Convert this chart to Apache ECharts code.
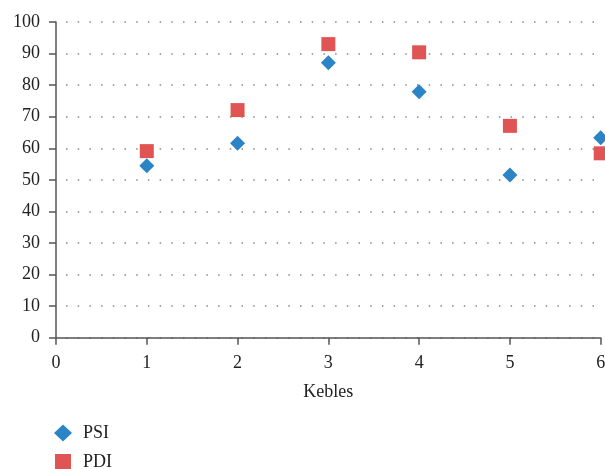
<!DOCTYPE html>
<html>
<head>
<meta charset="utf-8">
<script src="https://cdn.jsdelivr.net/npm/echarts@6/dist/echarts.min.js"></script>
<style>html,body{margin:0;padding:0;background:#fff;}#c{width:605px;height:469px;}</style>
</head>
<body>
<div id="c"></div>
<script>
const xValues = [1, 2, 3, 4, 5, 6];
const psiValues = [54.5, 61.6, 87.1, 77.9, 51.5, 63.3];
const pdiValues = [59.1, 72.1, 93.0, 90.4, 67.1, 58.4];
const seriesNames = ['PSI', 'PDI'];
const xAxisName = 'Kebles';

const font = 'Liberation Serif';
const legendBase = {
  orient: 'vertical', left: 54, padding: 0, itemGap: 0, itemWidth: 18, itemHeight: 17,
  textStyle: {fontFamily: font, fontSize: 18, color: '#222', padding: [0, 0, 0, 6]}
};
const chart = echarts.init(document.getElementById('c'), null, {renderer: 'canvas'});
chart.setOption({
  animation: false,
  backgroundColor: '#fff',
  grid: {left: 56, top: 22, right: 4.3, bottom: 131.3, containLabel: false, outerBoundsMode: 'none'},
  legend: [
    Object.assign({}, legendBase, {top: 424, data: [{name: seriesNames[0], icon: 'diamond'}]}),
    Object.assign({}, legendBase, {top: 453, left: 55, itemWidth: 16, itemHeight: 16,
      textStyle: Object.assign({}, legendBase.textStyle, {padding: [0, 0, 0, 7]}),
      data: [{name: seriesNames[1], icon: 'rect'}]})
  ],
  xAxis: {
    type: 'value', min: 0, max: 6, interval: 1,
    name: xAxisName, nameLocation: 'middle', nameGap: 46,
    nameTextStyle: {fontFamily: font, fontSize: 18, color: '#222'},
    axisLine: {show: true, onZero: false, lineStyle: {color: '#555', width: 1.5}},
    axisTick: {show: true, inside: false, length: 7, lineStyle: {color: '#555', width: 1.5}},
    axisLabel: {fontFamily: font, fontSize: 18, color: '#222', margin: 17},
    splitLine: {show: false}
  },
  yAxis: {
    type: 'value', min: 0, max: 100, interval: 10,
    axisLine: {show: true, lineStyle: {color: '#555', width: 1.5}},
    axisTick: {show: true, inside: false, length: 7, lineStyle: {color: '#555', width: 1.5}},
    axisLabel: {fontFamily: font, fontSize: 18, color: '#222', margin: 16},
    splitLine: {show: true, lineStyle: {color: '#888', width: 1.5, type: [1.5, 10.2], dashOffset: -10}}
  },
  series: [
    {
      name: seriesNames[0], type: 'scatter', symbol: 'diamond', symbolSize: 15,
      itemStyle: {color: '#2a84c5', opacity: 1}, z: 3,
      data: xValues.map((x, i) => [x, psiValues[i]])
    },
    {
      name: seriesNames[1], type: 'scatter', symbol: 'rect', symbolSize: 14,
      itemStyle: {color: '#e05454', opacity: 1}, z: 2,
      data: xValues.map((x, i) => [x, pdiValues[i]])
    }
  ]
});
</script>
</body>
</html>
